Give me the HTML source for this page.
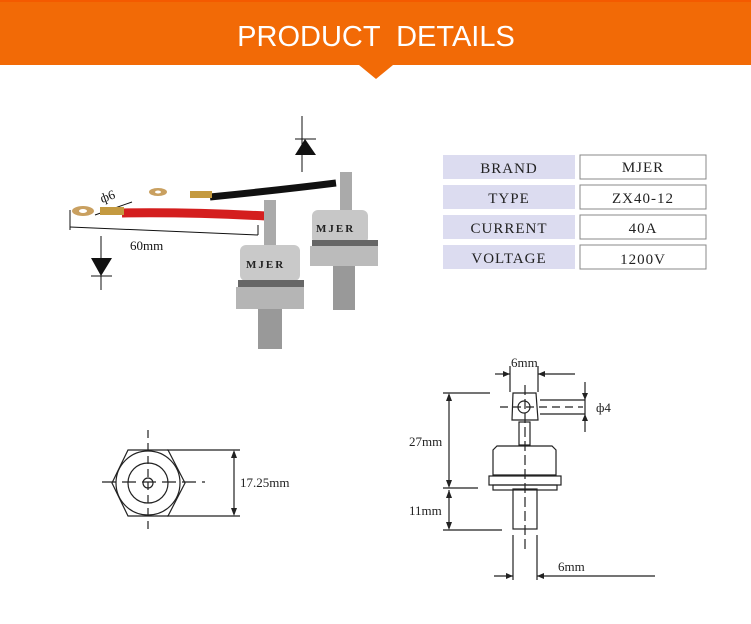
<!DOCTYPE html>
<html><head><style>
html,body{margin:0;padding:0;background:#fff;width:751px;height:624px;overflow:hidden}
svg{display:block}
</style></head><body>
<svg width="751" height="624" viewBox="0 0 751 624" xmlns="http://www.w3.org/2000/svg">
<rect x="0" y="0" width="751" height="65" fill="#f26a06"/>
<rect x="0" y="0" width="751" height="2" fill="#f45a00"/>
<polygon points="359,65 393,65 376,79" fill="#f26a06"/>
<text x="376" y="46" text-anchor="middle" font-family="Liberation Sans, sans-serif" font-size="29" fill="#fff" word-spacing="8">PRODUCT DETAILS</text>

<g stroke="#111" fill="none" stroke-width="1">
<line x1="70" y1="210" x2="70" y2="230"/>
<line x1="70" y1="227" x2="258" y2="235"/>
<line x1="258" y1="225" x2="258" y2="235"/>
<line x1="95" y1="215" x2="132" y2="202"/>
<line x1="101" y1="236" x2="101" y2="290"/>
<line x1="91" y1="276" x2="112" y2="276"/>
<line x1="302" y1="116" x2="302" y2="172"/>
<line x1="295" y1="139" x2="316" y2="139"/>
</g>
<polygon points="91,258 112,258 101,276" fill="#111"/>
<polygon points="295,155 316,155 305,139" fill="#111"/>
<text x="102" y="203" font-family="Liberation Serif, serif" font-size="13" fill="#111" transform="rotate(-20 102 203)">ф6</text>
<text x="130" y="250" font-family="Liberation Serif, serif" font-size="13" fill="#111">60mm</text>
<path d="M122,213 Q190,212 266,216" stroke="#d41e1e" stroke-width="9" fill="none"/>
<path d="M210,197 Q280,190 336,183" stroke="#111" stroke-width="7" fill="none"/>
<ellipse cx="83" cy="211" rx="11" ry="5" fill="#c9a060"/>
<ellipse cx="83" cy="211" rx="4" ry="2" fill="#fff"/>
<rect x="100" y="207" width="24" height="8" fill="#c49a40"/>
<ellipse cx="158" cy="192" rx="9" ry="4" fill="#c9a060"/>
<ellipse cx="158" cy="192" rx="3" ry="1.5" fill="#fff"/>
<rect x="190" y="191" width="22" height="7" fill="#c49a40"/>
<rect x="340" y="172" width="12" height="40" fill="#aaa"/>
<rect x="312" y="210" width="56" height="34" rx="6" fill="#c7c7c7"/>
<rect x="312" y="240" width="66" height="8" fill="#666"/>
<rect x="310" y="246" width="68" height="20" fill="#bbb"/>
<rect x="333" y="266" width="22" height="44" fill="#999"/>
<text x="316" y="232" font-family="Liberation Serif, serif" font-size="11" font-weight="bold" fill="#222" letter-spacing="2">MJER</text>
<rect x="264" y="200" width="12" height="50" fill="#aaa"/>
<rect x="240" y="245" width="60" height="36" rx="6" fill="#c9c9c9"/>
<rect x="238" y="280" width="66" height="8" fill="#666"/>
<rect x="236" y="287" width="68" height="22" fill="#b5b5b5"/>
<rect x="258" y="309" width="24" height="40" fill="#999"/>
<text x="246" y="268" font-family="Liberation Serif, serif" font-size="11" font-weight="bold" fill="#222" letter-spacing="2">MJER</text>

<g font-family="Liberation Serif, serif" font-size="15" fill="#222" text-anchor="middle" letter-spacing="1">
<rect x="443" y="155" width="132" height="24" fill="#dcdcf0"/>
<rect x="580" y="155" width="126" height="24" fill="#fff" stroke="#888"/>
<text x="509" y="173">BRAND</text><text x="643" y="172">MJER</text>
<rect x="443" y="185" width="132" height="24" fill="#dcdcf0"/>
<rect x="580" y="185" width="126" height="24" fill="#fff" stroke="#888"/>
<text x="509" y="203">TYPE</text><text x="643" y="203">ZX40-12</text>
<rect x="443" y="215" width="132" height="24" fill="#dcdcf0"/>
<rect x="580" y="215" width="126" height="24" fill="#fff" stroke="#888"/>
<text x="509" y="233">CURRENT</text><text x="643" y="233">40A</text>
<rect x="443" y="245" width="132" height="24" fill="#dcdcf0"/>
<rect x="580" y="245" width="126" height="24" fill="#fff" stroke="#888"/>
<text x="509" y="263">VOLTAGE</text><text x="643" y="264">1200V</text>
</g>

<g stroke="#222" fill="none" stroke-width="1.2">
<polygon points="128,450 168,450 185,483 168,516 128,516 112,483"/>
<circle cx="148" cy="483" r="32"/>
<circle cx="148" cy="483" r="20"/>
<circle cx="148" cy="483" r="5"/>
<line x1="148" y1="430" x2="148" y2="530" stroke-dasharray="8,5"/>
<line x1="102" y1="482" x2="205" y2="482" stroke-dasharray="14,6"/>
<line x1="167" y1="450" x2="240" y2="450"/>
<line x1="167" y1="516" x2="240" y2="516"/>
<line x1="234" y1="452" x2="234" y2="514"/>
</g>
<polygon points="234,450 231,458 237,458" fill="#222"/>
<polygon points="234,516 231,508 237,508" fill="#222"/>
<text x="240" y="487" font-family="Liberation Serif, serif" font-size="13" fill="#222">17.25mm</text>

<g stroke="#222" fill="none" stroke-width="1.2">
<path d="M513,393 L536,393 L538,420 L512,420 Z"/>
<circle cx="524" cy="407" r="6"/>
<rect x="519" y="422" width="11" height="23"/>
<path d="M497,446 L552,446 L556,450 L556,475 L493,475 L493,450 Z"/>
<rect x="489" y="476" width="72" height="9"/>
<rect x="493" y="485" width="64" height="5"/>
<rect x="513" y="489" width="24" height="40"/>
<line x1="525" y1="385" x2="525" y2="550" stroke-dasharray="10,4"/>
<line x1="500" y1="407" x2="583" y2="407" stroke-dasharray="8,5"/>
<line x1="540" y1="400" x2="585" y2="400"/>
<line x1="540" y1="414" x2="585" y2="414"/>
<line x1="585" y1="382" x2="585" y2="432"/>
<line x1="510" y1="366" x2="510" y2="392"/>
<line x1="538" y1="366" x2="538" y2="392"/>
<line x1="495" y1="374" x2="510" y2="374"/>
<line x1="538" y1="374" x2="575" y2="374"/>
<line x1="443" y1="393" x2="490" y2="393"/>
<line x1="443" y1="488" x2="478" y2="488"/>
<line x1="443" y1="530" x2="502" y2="530"/>
<line x1="449" y1="395" x2="449" y2="486"/>
<line x1="449" y1="490" x2="449" y2="528"/>
<line x1="513" y1="535" x2="513" y2="580"/>
<line x1="537" y1="535" x2="537" y2="580"/>
<line x1="494" y1="576" x2="513" y2="576"/>
<line x1="537" y1="576" x2="655" y2="576"/>
</g>
<g fill="#222">
<polygon points="510,374 503,371 503,377"/><polygon points="538,374 545,371 545,377"/>
<polygon points="585,400 582,393 588,393"/><polygon points="585,414 582,421 588,421"/>
<polygon points="449,393 446,401 452,401"/><polygon points="449,488 446,480 452,480"/>
<polygon points="449,490 446,498 452,498"/><polygon points="449,530 446,522 452,522"/>
<polygon points="513,576 506,573 506,579"/><polygon points="537,576 544,573 544,579"/>
</g>
<g font-family="Liberation Serif, serif" font-size="13" fill="#222">
<text x="511" y="367">6mm</text>
<text x="596" y="412">ф4</text>
<text x="409" y="446">27mm</text>
<text x="409" y="515">11mm</text>
<text x="558" y="571">6mm</text>
</g>
</svg>
</body></html>
